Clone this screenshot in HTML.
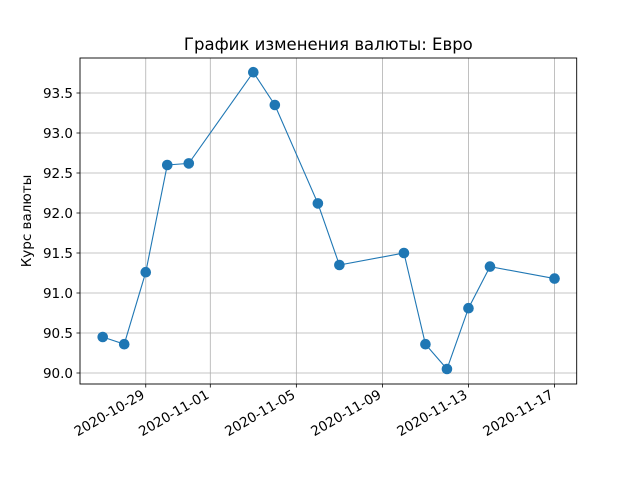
<!DOCTYPE html>
<html><head><meta charset="utf-8"><style>
body{margin:0;background:#fff}
svg{font-family:"DejaVu Sans","Liberation Sans",sans-serif}
</style></head><body>
<svg id="chart" width="640" height="480"></svg>
<script>
const dates=["2020-10-27","2020-10-28","2020-10-29","2020-10-30","2020-10-31","2020-11-03","2020-11-04","2020-11-06","2020-11-07","2020-11-10","2020-11-11","2020-11-12","2020-11-13","2020-11-14","2020-11-17"];
const rates=[90.45,90.36,91.26,92.60,92.62,93.76,93.35,92.12,91.35,91.50,90.36,90.05,90.81,91.33,91.18];
const xTicks=["2020-10-29","2020-11-01","2020-11-05","2020-11-09","2020-11-13","2020-11-17"];
const yTicks=[90.0,90.5,91.0,91.5,92.0,92.5,93.0,93.5];

const NS="http://www.w3.org/2000/svg";
const svg=document.getElementById('chart');
const L=80,R=576.7,T=58,B=384;
const base=Date.UTC(2020,9,29);
function day(s){const p=s.split('-');return (Date.UTC(+p[0],p[1]-1,+p[2])-base)/86400000;}
const x0=-3.056,x1=20.03,y0=89.8625,y1=93.9375;
function X(s){return L+(day(s)-x0)/(x1-x0)*(R-L);}
function Y(v){return B-(v-y0)/(y1-y0)*(B-T);}
function mk(tag,attrs,parent){const e=document.createElementNS(NS,tag);for(const k in attrs)e.setAttribute(k,attrs[k]);(parent||svg).appendChild(e);return e;}

const grid=mk('g',{});


xTicks.forEach(t=>{const x=X(t);
 mk('line',{x1:x,x2:x,y1:T,y2:B,stroke:'#b0b0b0','stroke-width':0.8},grid);
 mk('line',{x1:x,x2:x,y1:B,y2:B+3.5,stroke:'#000','stroke-width':0.8});
 const tx=mk('text',{x:0,y:0,transform:`translate(${x-5},${B+5}) rotate(-30)`,'text-anchor':'end','dominant-baseline':'hanging','font-size':13.5,fill:'#000'});
 tx.textContent=t;
 
 
});
yTicks.forEach(v=>{const y=Y(v);
 mk('line',{x1:L,x2:R,y1:y,y2:y,stroke:'#b0b0b0','stroke-width':0.8},grid);
 mk('line',{x1:L-3.5,x2:L,y1:y,y2:y,stroke:'#000','stroke-width':0.8});
 const tx=mk('text',{x:L-7,y:y+5,'text-anchor':'end','font-size':13.5,fill:'#000'});
 tx.textContent=v.toFixed(1);
 
 
});
const line=mk('polyline',{points:dates.map((d,i)=>X(d)+','+Y(rates[i])).join(' '),fill:'none',stroke:'#1f77b4','stroke-width':1.1});


dates.forEach((d,i)=>{const c=mk('circle',{cx:X(d),cy:Y(rates[i]),r:5.3,fill:'#1f77b4'});
 
 
});
const frame=mk('rect',{x:L,y:T,width:R-L,height:B-T,fill:'none',stroke:'#000','stroke-width':0.9});


const title=mk('text',{x:(L+R)/2,y:50,'text-anchor':'middle','font-size':16.5,fill:'#000'});
title.textContent='График изменения валюты: Евро';


const yl=mk('text',{x:0,y:0,transform:`translate(31,${(T+B)/2}) rotate(-90)`,'text-anchor':'middle','font-size':13.5,fill:'#000'});
yl.textContent='Курс валюты';


</script>
</body></html>
